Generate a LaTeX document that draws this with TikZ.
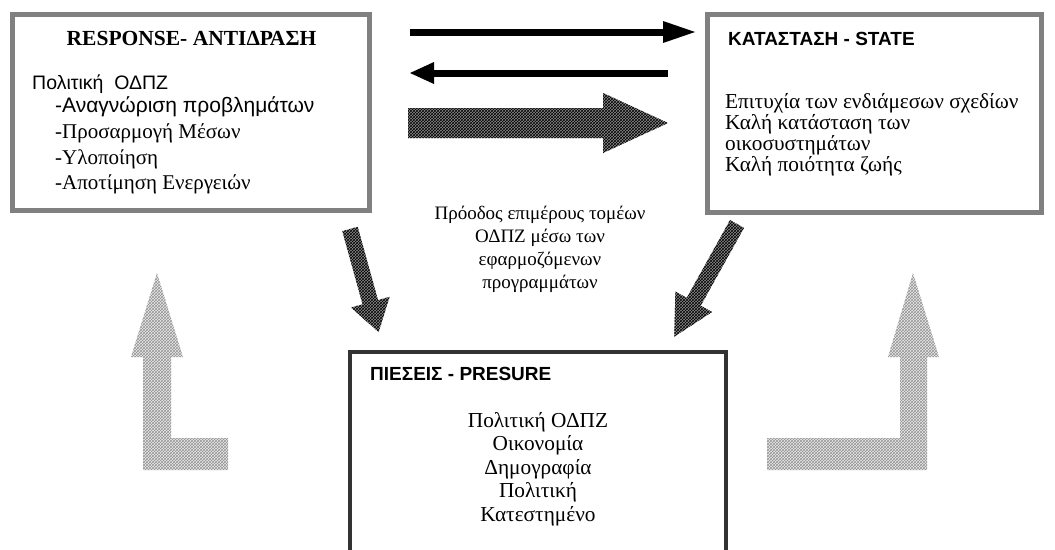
\documentclass[tikz,border=0pt]{standalone}
\usepackage{fontspec}
\setmainfont{Liberation Serif}
\setsansfont{Liberation Sans}
\usetikzlibrary{patterns}
\newcommand{\fsz}[1]{\fontsize{#1}{#1}\selectfont}

\begin{document}
\begin{tikzpicture}[x=1pt,y=1pt]
  \tikzstyle{every node}+=[inner sep=0pt]
  \tikzstyle{sidebox}=[draw=black!50, line width=5pt]
  \tikzstyle{mainbox}=[draw=black!80, line width=4pt]
  \tikzstyle{serif}=[anchor=base west, font=\fsz{21.3}]
  \tikzstyle{sans}=[anchor=base west, font=\sffamily\fsz{20}]
  \tikzstyle{heading}=[anchor=base west, font=\sffamily\bfseries\fsz{19}]
  \tikzstyle{hatched}=[preaction={fill=black!45}, pattern=crosshatch, pattern color=black]
  \tikzstyle{lighthatch}=[preaction={fill=black!8}, pattern=crosshatch, pattern color=black!42]
  \clip (0,0) rectangle (1055,-549);

  % boxes
  \node [sidebox, minimum width=357pt, minimum height=196pt] (response) at (191,-112.5) {};
  \node [sidebox, minimum width=334pt, minimum height=198pt] (state) at (874.5,-113.5) {};
  \node [mainbox, minimum width=376pt, minimum height=210pt] (pressure) at (538,-457) {};

  % response
  \node [anchor=base, font=\bfseries\fsz{21.5}] (resp-title) at (191.5,-45) {RESPONSE- ΑΝΤΙΔΡΑΣΗ};
  \node [sans, font=\sffamily\fsz{19.5}] (resp-policy) at (32,-89) {Πολιτική\ \ ΟΔΠΖ};
  \node [sans, font=\sffamily\fsz{21}] (resp-a) at (55,-112) {-Αναγνώριση προβλημάτων};
  \node [serif, font=\fsz{21}] (resp-b) at (55,-138) {-Προσαρμογή Μέσων};
  \node [serif, font=\fsz{21}] (resp-c) at (55,-164) {-Υλοποίηση};
  \node [serif, font=\fsz{21}] (resp-d) at (55,-189) {-Αποτίμηση Ενεργειών};

  % state
  \node [heading] (state-title) at (728,-45) {ΚΑΤΑΣΤΑΣΗ - STATE};
  \node [serif] (state-a) at (725,-108) {Επιτυχία των ενδιάμεσων σχεδίων};
  \node [serif] (state-b) at (725,-129) {Καλή κατάσταση των};
  \node [serif] (state-c) at (725,-150) {οικοσυστημάτων};
  \node [serif] (state-d) at (725,-171) {Καλή ποιότητα ζωής};

  % pressure
  \node [heading] (pres-title) at (370,-380) {ΠΙΕΣΕΙΣ - PRESURE};
  \node [serif, anchor=base] (pres-a) at (538,-427) {Πολιτική ΟΔΠΖ};
  \node [serif, anchor=base] (pres-b) at (538,-450.5) {Οικονομία};
  \node [serif, anchor=base] (pres-c) at (538,-474) {Δημογραφία};
  \node [serif, anchor=base] (pres-d) at (538,-497.5) {Πολιτική};
  \node [serif, anchor=base] (pres-e) at (538,-521) {Κατεστημένο};

  % middle label
  \node [serif, anchor=base, font=\fsz{19}] (prog-a) at (540,-219) {Πρόοδος επιμέρους τομέων};
  \node [serif, anchor=base, font=\fsz{19}] (prog-b) at (540,-242) {ΟΔΠΖ μέσω των};
  \node [serif, anchor=base, font=\fsz{19}] (prog-c) at (540,-265) {εφαρμοζόμενων};
  \node [serif, anchor=base, font=\fsz{19}] (prog-d) at (540,-288) {προγραμμάτων};

  % black arrows
  \coordinate (fwd-start) at (410,-32);
  \coordinate (fwd-base) at (665,-32);
  \coordinate (fwd-tip) at (695,-32);
  \coordinate (back-start) at (668,-73);
  \coordinate (back-base) at (432,-73);
  \coordinate (back-tip) at (410,-73);
  \draw [black, line width=7pt] (fwd-start) -- (fwd-base);
  \fill [black] (fwd-tip) -- ++(-32,11) -- ++(0,-22) -- cycle;
  \draw [black, line width=7pt] (back-start) -- (back-base);
  \fill [black] (back-tip) -- ++(24,11) -- ++(0,-22) -- cycle;

  % hatched arrows
  \fill [hatched] (408,-108) -- (603,-108) -- (603,-93) -- (668,-123) -- (603,-153) -- (603,-138) -- (408,-138) -- cycle;
  \begin{scope}[shift={(350,-229)}, rotate=-74.5]
    \fill [hatched] (0,-8) -- (76,-8) -- (76,-20) -- (107,0) -- (76,20) -- (76,8) -- (0,8) -- cycle;
  \end{scope}
  \begin{scope}[shift={(737,-224)}, rotate=-119.1]
    \fill [hatched] (0,-8) -- (89,-8) -- (89,-21) -- (129,0) -- (89,21) -- (89,8) -- (0,8) -- cycle;
  \end{scope}

  % feedback arrows
  \fill [lighthatch] (228,-438) -- (171,-438) -- (171,-357) -- (183,-357) -- (157,-273) -- (131,-357) -- (143,-357) -- (143,-470) -- (228,-470) -- cycle;
  \fill [lighthatch] (767,-438) -- (900,-438) -- (900,-357) -- (888,-357) -- (913,-273) -- (939,-357) -- (927,-357) -- (927,-470) -- (767,-470) -- cycle;
\end{tikzpicture}
\end{document}
